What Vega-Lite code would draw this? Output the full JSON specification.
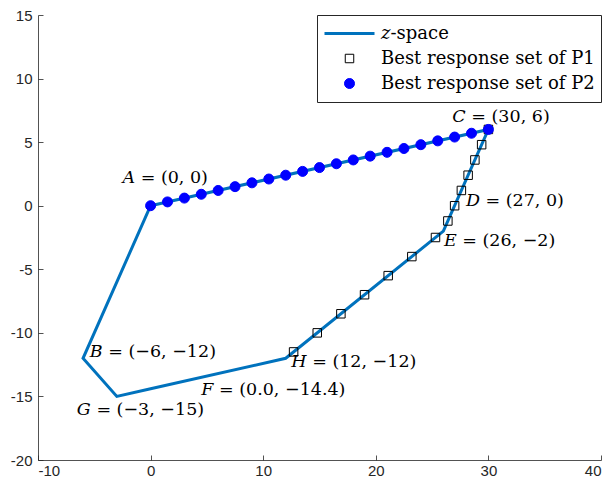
{
  "$schema": "https://vega.github.io/schema/vega-lite/v6.json",
  "width": 563,
  "height": 445,
  "autosize": {"type": "none"},
  "padding": {"left": 38, "top": 15, "right": 9, "bottom": 28},
  "background": "white",
  "config": {
    "view": {"stroke": null},
    "axis": {
      "labelFont": "Liberation Sans",
      "labelFontSize": 15,
      "labelColor": "#262626",
      "domainColor": "#262626",
      "tickColor": "#262626",
      "domainWidth": 0.8,
      "tickWidth": 0.8,
      "grid": false,
      "title": null
    }
  },
  "datasets": {
    "zspace": [
      {"order": 1, "x": 0, "y": 0},
      {"order": 2, "x": 30, "y": 6},
      {"order": 3, "x": 27, "y": 0},
      {"order": 4, "x": 26, "y": -2},
      {"order": 5, "x": 12, "y": -12},
      {"order": 6, "x": 0, "y": -14.4},
      {"order": 7, "x": -3, "y": -15},
      {"order": 8, "x": -6, "y": -12},
      {"order": 9, "x": 0, "y": 0}
    ],
    "best": [
      {"series": "Best response set of P1", "x": 30, "y": 6},
      {"series": "Best response set of P1", "x": 29.4, "y": 4.8},
      {"series": "Best response set of P1", "x": 28.8, "y": 3.6},
      {"series": "Best response set of P1", "x": 28.2, "y": 2.4},
      {"series": "Best response set of P1", "x": 27.6, "y": 1.2},
      {"series": "Best response set of P1", "x": 27, "y": 0},
      {"series": "Best response set of P1", "x": 26.4, "y": -1.2},
      {"series": "Best response set of P1", "x": 25.3, "y": -2.5},
      {"series": "Best response set of P1", "x": 23.2, "y": -4},
      {"series": "Best response set of P1", "x": 21.1, "y": -5.5},
      {"series": "Best response set of P1", "x": 19, "y": -7},
      {"series": "Best response set of P1", "x": 16.9, "y": -8.5},
      {"series": "Best response set of P1", "x": 14.8, "y": -10},
      {"series": "Best response set of P1", "x": 12.7, "y": -11.5},
      {"series": "Best response set of P2", "x": 0, "y": 0},
      {"series": "Best response set of P2", "x": 1.5, "y": 0.3},
      {"series": "Best response set of P2", "x": 3, "y": 0.6},
      {"series": "Best response set of P2", "x": 4.5, "y": 0.9},
      {"series": "Best response set of P2", "x": 6, "y": 1.2},
      {"series": "Best response set of P2", "x": 7.5, "y": 1.5},
      {"series": "Best response set of P2", "x": 9, "y": 1.8},
      {"series": "Best response set of P2", "x": 10.5, "y": 2.1},
      {"series": "Best response set of P2", "x": 12, "y": 2.4},
      {"series": "Best response set of P2", "x": 13.5, "y": 2.7},
      {"series": "Best response set of P2", "x": 15, "y": 3},
      {"series": "Best response set of P2", "x": 16.5, "y": 3.3},
      {"series": "Best response set of P2", "x": 18, "y": 3.6},
      {"series": "Best response set of P2", "x": 19.5, "y": 3.9},
      {"series": "Best response set of P2", "x": 21, "y": 4.2},
      {"series": "Best response set of P2", "x": 22.5, "y": 4.5},
      {"series": "Best response set of P2", "x": 24, "y": 4.8},
      {"series": "Best response set of P2", "x": 25.5, "y": 5.1},
      {"series": "Best response set of P2", "x": 27, "y": 5.4},
      {"series": "Best response set of P2", "x": 28.5, "y": 5.7},
      {"series": "Best response set of P2", "x": 30, "y": 6}
    ],
    "labels": [
      {"label": "𝐴 = (0, 0)", "x": -2.5, "y": 2.2},
      {"label": "𝐶 = (30, 6)", "x": 26.8, "y": 7.0},
      {"label": "𝐷 = (27, 0)", "x": 28.0, "y": 0.4},
      {"label": "𝐸 = (26, −2)", "x": 26.05, "y": -2.8},
      {"label": "𝐵 = (−6, −12)", "x": -5.4, "y": -11.5},
      {"label": "𝐻 = (12, −12)", "x": 12.5, "y": -12.3},
      {"label": "𝐹 = (0.0, −14.4)", "x": 4.5, "y": -14.5},
      {"label": "𝐺 = (−3, −15)", "x": -6.55, "y": -16.1}
    ]
  },
  "encoding": {
    "x": {
      "field": "x", "type": "quantitative",
      "scale": {"domain": [-10, 40], "nice": false, "zero": false},
      "axis": {"values": [-10, 0, 10, 20, 30, 40], "tickSize": -5, "labelPadding": 8, "labelExpr": "'' + datum.value"}
    },
    "y": {
      "field": "y", "type": "quantitative",
      "scale": {"domain": [-20, 15], "nice": false, "zero": false},
      "axis": {"values": [-20, -15, -10, -5, 0, 5, 10, 15], "tickSize": -5, "labelPadding": 11, "labelExpr": "'' + datum.value"}
    }
  },
  "layer": [
    {
      "data": {"name": "zspace"},
      "mark": {"type": "line", "color": "#0072BD", "strokeWidth": 3},
      "encoding": {"order": {"field": "order", "type": "quantitative"}}
    },
    {
      "data": {"name": "best"},
      "mark": {"type": "point", "filled": true, "opacity": 1},
      "encoding": {
        "shape": {
          "field": "series", "type": "nominal",
          "scale": {"domain": ["z-space", "Best response set of P1", "Best response set of P2"], "range": ["stroke", "square", "circle"]},
          "legend": {
            "title": null,
            "orient": "top-right",
            "offset": 0,
            "padding": 6,
            "strokeColor": "#262626",
            "fillColor": "white",
            "labelFont": "DejaVu Serif",
            "labelFontSize": 18,
            "labelColor": "black",
            "labelLimit": 400,
            "labelOffset": 5,
            "rowPadding": 0,
            "clipHeight": 25,
            "labelExpr": "datum.label === 'z-space' ? '𝑧-space' : datum.label"
          }
        },
        "fill": {
          "field": "series", "type": "nominal",
          "scale": {"domain": ["z-space", "Best response set of P1", "Best response set of P2"], "range": ["transparent", "transparent", "#0000FF"]}
        },
        "stroke": {
          "field": "series", "type": "nominal",
          "scale": {"domain": ["z-space", "Best response set of P1", "Best response set of P2"], "range": ["#0072BD", "#000000", "#0000FF"]}
        },
        "strokeWidth": {
          "field": "series", "type": "nominal",
          "scale": {"type": "ordinal", "domain": ["z-space", "Best response set of P1", "Best response set of P2"], "range": [3, 1, 1]}
        },
        "size": {
          "field": "series", "type": "nominal",
          "scale": {"type": "ordinal", "domain": ["z-space", "Best response set of P1", "Best response set of P2"], "range": [2500, 72, 100]}
        }
      }
    },
    {
      "data": {"name": "labels"},
      "mark": {"type": "text", "align": "left", "baseline": "middle", "font": "DejaVu Serif", "fontSize": 17.5, "color": "black"},
      "encoding": {"text": {"field": "label"}}
    }
  ]
}
